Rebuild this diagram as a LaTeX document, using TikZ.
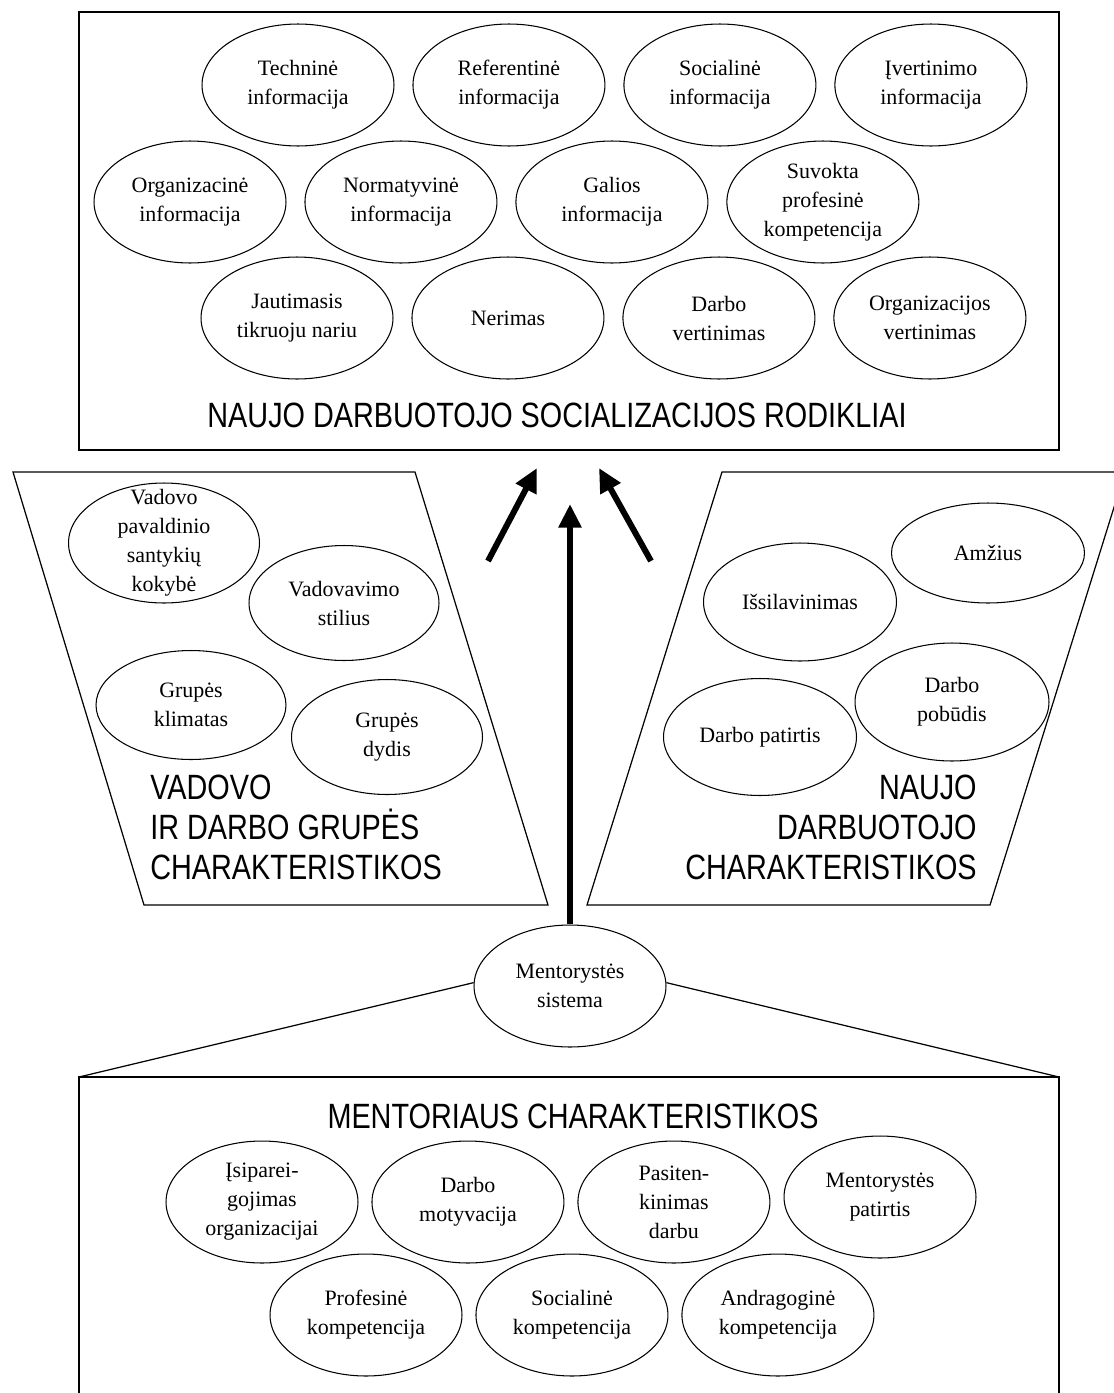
\documentclass[tikz,border=0pt]{standalone}
\usepackage{fontspec}
\setmainfont{Liberation Serif}
\newfontfamily\capsfont[FakeStretch=0.82]{Liberation Sans}
\usetikzlibrary{arrows.meta}
\usetikzlibrary{shapes.geometric}
\tikzstyle{oval} = [ellipse, draw=black, line width=0.6pt, inner sep=0pt, minimum width=3.84cm, minimum height=2.44cm, align=center, font=\fontsize{12.5}{16.5}\selectfont]
\tikzstyle{textonly} = [align=center, inner sep=0pt, font=\fontsize{12.5}{16.5}\selectfont]
\tikzstyle{caption} = [inner sep=0pt, font=\capsfont\fontsize{20}{22.8}\selectfont]
\tikzstyle{frame} = [draw=black, line width=0.7pt]
\tikzstyle{bigarrow} = [line width=3.4pt, -{Triangle[length=13.5pt,width=12.5pt]}]

\begin{document}
\begin{tikzpicture}[x=0.02cm, y=-0.02cm, node distance=4.22cm]
    \useasboundingbox (0,0) rectangle (1113,1393);
    % frames
    \draw[frame, line width=1pt] (79,12) rectangle (1059,450);
    \draw[frame] (13,472) -- (415,472) -- (548,905) -- (144,905) -- cycle;
    \draw[frame] (722,472) -- (1125,472) -- (990,905) -- (587,905) -- cycle;
    \coordinate (boxl) at (79,1077);
    \coordinate (boxr) at (1059,1077);
    \draw[frame] (79,1410) -- (boxl) -- (boxr) -- (1059,1410);

    % socializacijos rodikliai
    \node (tech) [oval] at (298,85) {Techninė\\informacija};
    \node (ref) [oval, right of=tech] {Referentinė\\informacija};
    \node (soc) [oval, right of=ref] {Socialinė\\informacija};
    \node (ivert) [oval, right of=soc] {Įvertinimo\\informacija};
    \node (org) [oval] at (190,202) {Organizacinė\\informacija};
    \node (norm) [oval, right of=org] {Normatyvinė\\informacija};
    \node (gal) [oval, right of=norm] {Galios\\informacija};
    \node (suv) [oval, right of=gal] {Suvokta\\profesinė\\kompetencija};
    \node (jaut) [oval] at (297,318) {Jautimasis\\tikruoju nariu};
    \node (ner) [oval, right of=jaut] {Nerimas};
    \node (dv) [oval, right of=ner] {Darbo\\vertinimas};
    \node (ov) [oval, right of=dv] {Organizacijos\\vertinimas};
    \node (rodikliai) [caption, anchor=base] at (557,427) {NAUJO DARBUOTOJO SOCIALIZACIJOS RODIKLIAI};

    % vadovas ir grupe
    \node (vp) [oval, minimum width=3.82cm, minimum height=2.4cm, label={[textonly]center:Vadovo\\pavaldinio\\santykių\\kokybė}] at (164,543) {};
    \node (vs) [oval, minimum width=3.8cm, minimum height=2.3cm] at (344,603) {Vadovavimo\\stilius};
    \node (gk) [oval, minimum width=3.8cm, minimum height=2.18cm] at (191,705) {Grupės\\klimatas};
    \node (gd) [oval, minimum width=3.82cm, minimum height=2.3cm] at (387,737) {Grupės\\dydis};
    \node (vadovo) [caption, align=left, anchor=south west] at (150,880) {VADOVO\\IR DARBO GRUPĖS\\CHARAKTERISTIKOS};

    % naujas darbuotojas
    \node (amz) [oval, minimum width=3.86cm, minimum height=2cm] at (988,553) {Amžius};
    \node (iss) [oval, minimum width=3.86cm, minimum height=2.36cm] at (800,602) {Išsilavinimas};
    \node (pob) [oval, minimum width=3.88cm, minimum height=2.36cm] at (952,702) {Darbo\\pobūdis};
    \node (pat) [oval, minimum width=3.86cm, minimum height=2.34cm] at (760,737) {Darbo patirtis};
    \node (naujo) [caption, align=right, anchor=south east] at (977,880) {NAUJO\\DARBUOTOJO\\CHARAKTERISTIKOS};

    % mentorius
    \node (ms) [oval] at (570,986) {Mentorystės\\sistema};
    \draw[frame] (ms.178) -- (boxl);
    \draw[frame] (ms.2) -- (boxr);
    \node (mentorius) [caption, anchor=base] at (573,1128) {MENTORIAUS CHARAKTERISTIKOS};
    \begin{scope}[node distance=4.12cm]
    \node (isip) [oval] at (262,1202) {Įsiparei-\\gojimas\\organizacijai};
    \node (motyv) [oval, right of=isip] {Darbo\\motyvacija};
    \node (pasit) [oval, right of=motyv] {Pasiten-\\kinimas\\darbu};
    \node (mpat) [oval] at (880,1197) {Mentorystės\\patirtis};
    \node (prof) [oval] at (366,1315) {Profesinė\\kompetencija};
    \node (socomp) [oval, right of=prof] {Socialinė\\kompetencija};
    \node (andr) [oval, right of=socomp] {Andragoginė\\kompetencija};
    \end{scope}

    % arrows
    \coordinate (ltail) at (488,561);
    \coordinate (lhead) at (537,468);
    \coordinate (rtail) at (651,561);
    \coordinate (rhead) at (599,468);
    \coordinate (chead) at (570,504);
    \draw[bigarrow] (ltail) -- (lhead);
    \draw[bigarrow] (rtail) -- (rhead);
    \draw[bigarrow] (ms.north) -- (chead);
\end{tikzpicture}
\end{document}
